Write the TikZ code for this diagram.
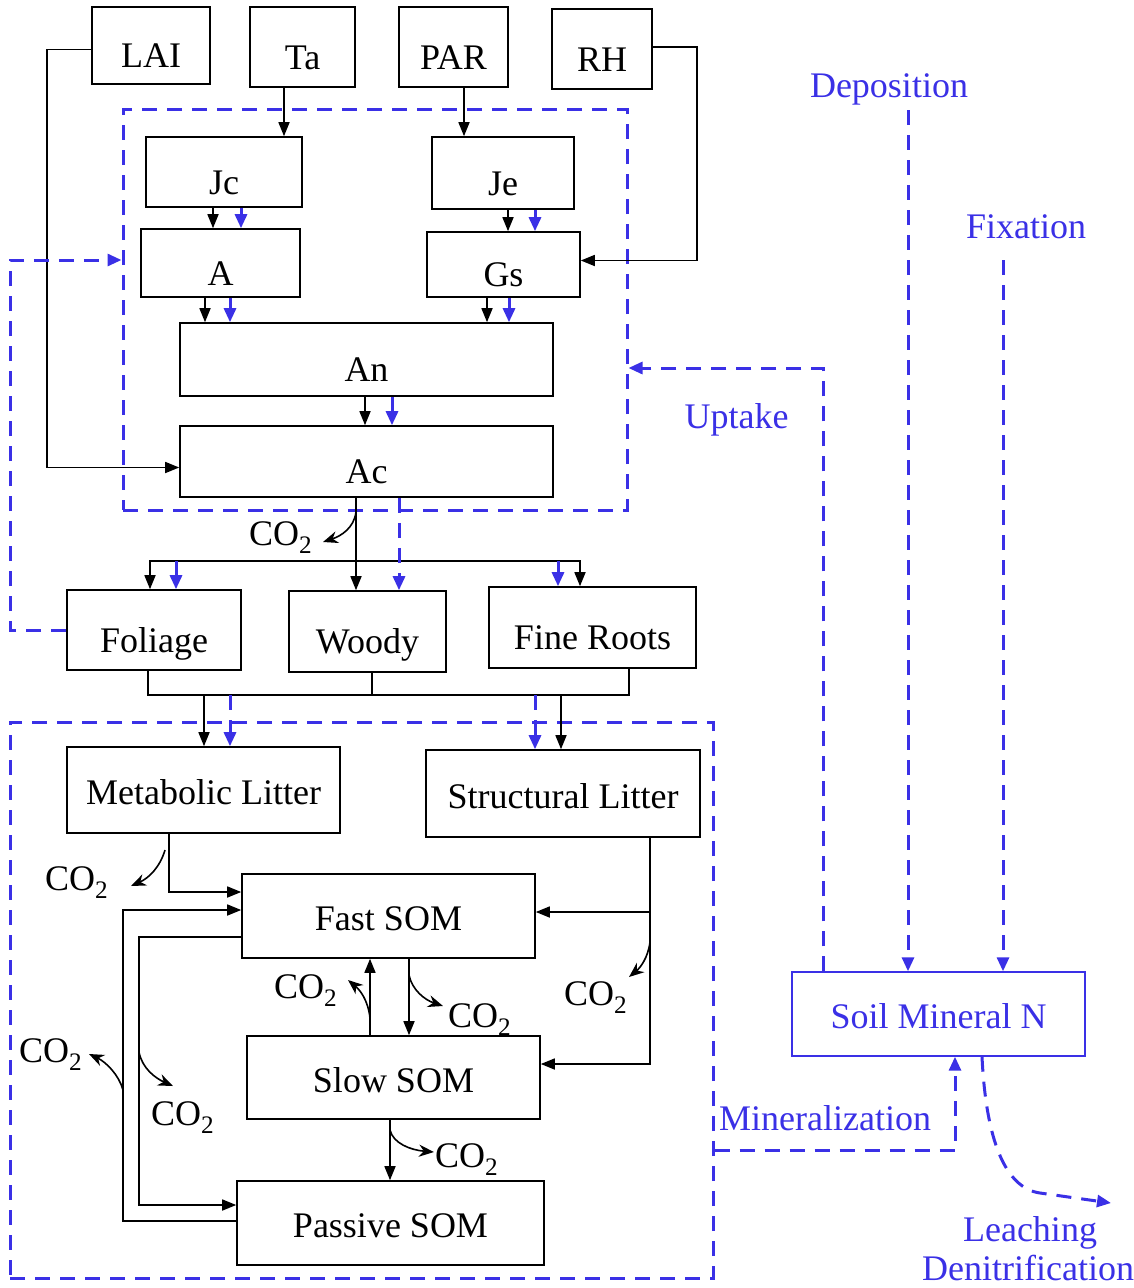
\documentclass[tikz,border=0pt]{standalone}
\usepackage{fontspec}
\setmainfont{Liberation Serif}
\usetikzlibrary{arrows.meta,calc}
\definecolor{nblue}{RGB}{58,48,230}

\begin{document}
\begin{tikzpicture}[x=1pt,y=-1pt,
  every node/.style={font=\fontsize{36}{40}\selectfont},
  cbox/.style={draw, line width=1.6pt, inner sep=0pt, text height=#1, text depth=0pt},
  cbox/.default=44pt,
  grp/.style={draw=nblue, line width=3pt, dash pattern=on 15pt off 10pt, inner sep=0pt},
  flow/.style={line width=1.6pt, -{Triangle[length=14pt,width=11pt]}},
  plain/.style={line width=1.6pt},
  nflow/.style={nblue, line width=3pt, dash pattern=on 15pt off 10pt, -{Triangle[length=14pt,width=12pt]}},
  resp/.style={line width=1.6pt, -{Stealth[length=15pt,width=12pt]}},
  co/.style={anchor=base west, inner sep=0pt},
  ntext/.style={text=nblue, inner sep=4pt},
]
\useasboundingbox (0,0) rectangle (1134,1288);

% ---- dashed groupings: plant photosynthesis and soil carbon pools
\node[grp, minimum width=504pt, minimum height=401pt] (plant) at (375,309.5) {};
\node[grp, minimum width=703pt, minimum height=556pt] (soilgrp) at (361.5,1000) {};

% ---- climate drivers
\node[cbox, minimum width=118pt, minimum height=77pt] (LAI) at (151,45.5) {LAI};
\node[cbox, minimum width=105pt, minimum height=80pt] (Ta)  at (302.5,47) {Ta};
\node[cbox, minimum width=109pt, minimum height=80pt] (PAR) at (453.5,47) {PAR};
\node[cbox, minimum width=100pt, minimum height=80pt] (RH)  at (602,49) {RH};

% ---- photosynthesis
\node[cbox, minimum width=156pt, minimum height=70pt] (Jc) at (224,172) {Jc};
\node[cbox, minimum width=142pt, minimum height=72pt] (Je) at (503,173) {Je};
\node[cbox, minimum width=159pt, minimum height=68pt] (A)  at (220.5,263) {A};
\node[cbox, minimum width=153pt, minimum height=65pt] (Gs) at (503.5,264.5) {Gs};
\node[cbox, minimum width=373pt, minimum height=73pt] (An) at (366.5,359.5) {An};
\node[cbox, minimum width=373pt, minimum height=71pt] (Ac) at (366.5,461.5) {Ac};

% ---- plant pools
\node[cbox, minimum width=174pt, minimum height=80pt] (Foliage)   at (154,630) {Foliage};
\node[cbox, minimum width=157pt, minimum height=81pt] (Woody)     at (367.5,631.5) {Woody};
\node[cbox, minimum width=207pt, minimum height=81pt] (FineRoots) at (592.5,627.5) {Fine Roots};

% ---- litter and soil organic matter
\node[cbox=29pt, minimum width=273pt, minimum height=86pt] (Metab)   at (203.5,790) {Metabolic Litter};
\node[cbox=29pt, minimum width=274pt, minimum height=87pt] (Struct)  at (563,793.5) {Structural Litter};
\node[cbox=29pt, minimum width=293pt, minimum height=84pt] (Fast)    at (388.5,916) {Fast SOM};
\node[cbox=29pt, minimum width=293pt, minimum height=83pt] (Slow)    at (393.5,1077.5) {Slow SOM};
\node[cbox=29pt, minimum width=307pt, minimum height=84pt] (Passive) at (390.5,1223) {Passive SOM};

% ---- mineral nitrogen
\node[cbox=29pt, draw=nblue, text=nblue, line width=1.4pt, minimum width=293pt, minimum height=84pt] (Soil) at (938.5,1014) {Soil Mineral N};

% ---- nitrogen flux labels
\node[ntext, anchor=base] (dep)  at (889,97)   {Deposition};
\node[ntext, anchor=base] (fix)  at (1026,238) {Fixation};
\node[ntext, anchor=base] (upt)  at (736.5,428) {Uptake};
\node[ntext, anchor=base west, inner sep=0pt] (minl) at (719,1130) {Mineralization};
\node[ntext, anchor=base] (leach) at (1030,1241) {Leaching};
\node[ntext, anchor=base] (denit) at (1028,1280) {Denitrification};
\coordinate (depsrc) at (908,110);
\coordinate (fixsrc) at (1003,260);
\coordinate (leachend) at (1111,1203);

% ---- driver connections
\draw[flow] ([yshift=-4pt]LAI.west) -- ++(-44,0) |- ([yshift=-6pt]Ac.west);
\draw[flow] (284,0 |- Ta.south) -- (284,0 |- Jc.north);
\draw[flow] (464,0 |- PAR.south) -- (464,0 |- Je.north);
\draw[flow] ([yshift=2pt]RH.east) -- ++(44,0) |- ([yshift=4pt]Gs.east);

% ---- carbon (black) and nitrogen (blue) flows inside the leaf
\draw[flow]  (213,0 |- Jc.south) -- (213,0 |- A.north);
\draw[nflow] (241,0 |- Jc.south) -- (241,0 |- A.north);
\draw[flow]  (508,0 |- Je.south) -- (508,0 |- Gs.north);
\draw[nflow] (535,0 |- Je.south) -- (535,0 |- Gs.north);
\draw[flow]  (205,0 |- A.south) -- (205,0 |- An.north);
\draw[nflow] (230,0 |- A.south) -- (230,0 |- An.north);
\draw[flow]  (487,0 |- Gs.south) -- (487,0 |- An.north);
\draw[nflow] (509,0 |- Gs.south) -- (509,0 |- An.north);
\draw[flow]  (365,0 |- An.south) -- (365,0 |- Ac.north);
\draw[nflow] (392,0 |- An.south) -- (392,0 |- Ac.north);

% ---- allocation to plant pools
\coordinate (split) at (356,561);
\draw[flow] (356,0 |- Ac.south) -- (356,0 |- Woody.north);
\draw[flow] (split) -| (150,0 |- Foliage.north);
\draw[flow] (split) -| (580,0 |- FineRoots.north);
\draw[nflow] (399,0 |- Ac.south) -- (399,0 |- Woody.north);
\draw[nflow] (176,561) -- (176,0 |- Foliage.north);
\draw[nflow] (558,561) -- (558,0 |- FineRoots.north);
\draw[resp] (356,512) .. controls (354,528) and (341,536) .. (323,542);
\node[co] (co2a) at (249,545) {CO\textsubscript{2}};

% ---- leaf nitrogen feedback
\draw[nflow] (Foliage.west) -- (10,0 |- Foliage.west) |- (plant.west |- 0,260);

% ---- litterfall
\draw[plain] (148,0 |- Foliage.south) -- (148,695) -- (629,695) -- (629,0 |- FineRoots.south);
\draw[plain] (372,0 |- Woody.south) -- (372,695);
\draw[flow]  (204,695) -- (204,0 |- Metab.north);
\draw[nflow] (230,695) -- (230,0 |- Metab.north);
\draw[nflow] (535,695) -- (535,0 |- Struct.north);
\draw[flow]  (561,695) -- (561,0 |- Struct.north);

% ---- decomposition
\draw[flow] (169,0 |- Metab.south) |- (Fast.west |- 0,892);
\draw[resp] (165,850) .. controls (160,867) and (149,878) .. (131,886);
\node[co] (co2b) at (45,890) {CO\textsubscript{2}};

\draw[flow] (Passive.west |- 0,1221) -- (123,1221) -- (123,910) -- (Fast.west |- 0,910);
\draw[resp] (123,1090) .. controls (119,1075) and (106,1062) .. (89,1054);
\node[co] (co2c) at (19,1062) {CO\textsubscript{2}};

\draw[flow] (Fast.west |- 0,937) -- (139,937) -- (139,1205) -- (Passive.west |- 0,1205);
\draw[resp] (139,1052) .. controls (142,1068) and (155,1078) .. (173,1086);
\node[co] (co2d) at (151,1125) {CO\textsubscript{2}};

\draw[flow] (409,0 |- Fast.south) -- (409,0 |- Slow.north);
\draw[resp] (409,975) .. controls (412,990) and (425,1000) .. (443,1006);
\node[co] (co2e) at (448,1027) {CO\textsubscript{2}};

\draw[flow] (370,0 |- Slow.north) -- (370,0 |- Fast.south);
\draw[resp] (370,1018) .. controls (368,1000) and (360,990) .. (348,980);
\node[co] (co2f) at (274,998) {CO\textsubscript{2}};

\draw[flow] (390,0 |- Slow.south) -- (390,0 |- Passive.north);
\draw[resp] (390,1130) .. controls (393,1143) and (410,1150) .. (434,1152);
\node[co] (co2g) at (435,1167) {CO\textsubscript{2}};

\draw[flow] (650,0 |- Struct.south) |- (Slow.east |- 0,1064);
\draw[flow] (650,912) -- (Fast.east |- 0,912);
\draw[resp] (650,942) .. controls (648,958) and (640,968) .. (629,977);
\node[co] (co2h) at (564,1005) {CO\textsubscript{2}};

% ---- nitrogen cycle
\draw[nflow] (823,0 |- Soil.north) |- (plant.east |- 0,368);
\draw[nflow] (depsrc) -- (908,0 |- Soil.north);
\draw[nflow] (fixsrc) -- (1003,0 |- Soil.north);
\draw[nflow] (soilgrp.east |- 0,1150) -- (955,1150) -- (955,0 |- Soil.south);
\draw[nflow] (982,0 |- Soil.south) .. controls (986,1140) and (1005,1188) .. (1040,1193) -- (leachend);
\end{tikzpicture}
\end{document}
